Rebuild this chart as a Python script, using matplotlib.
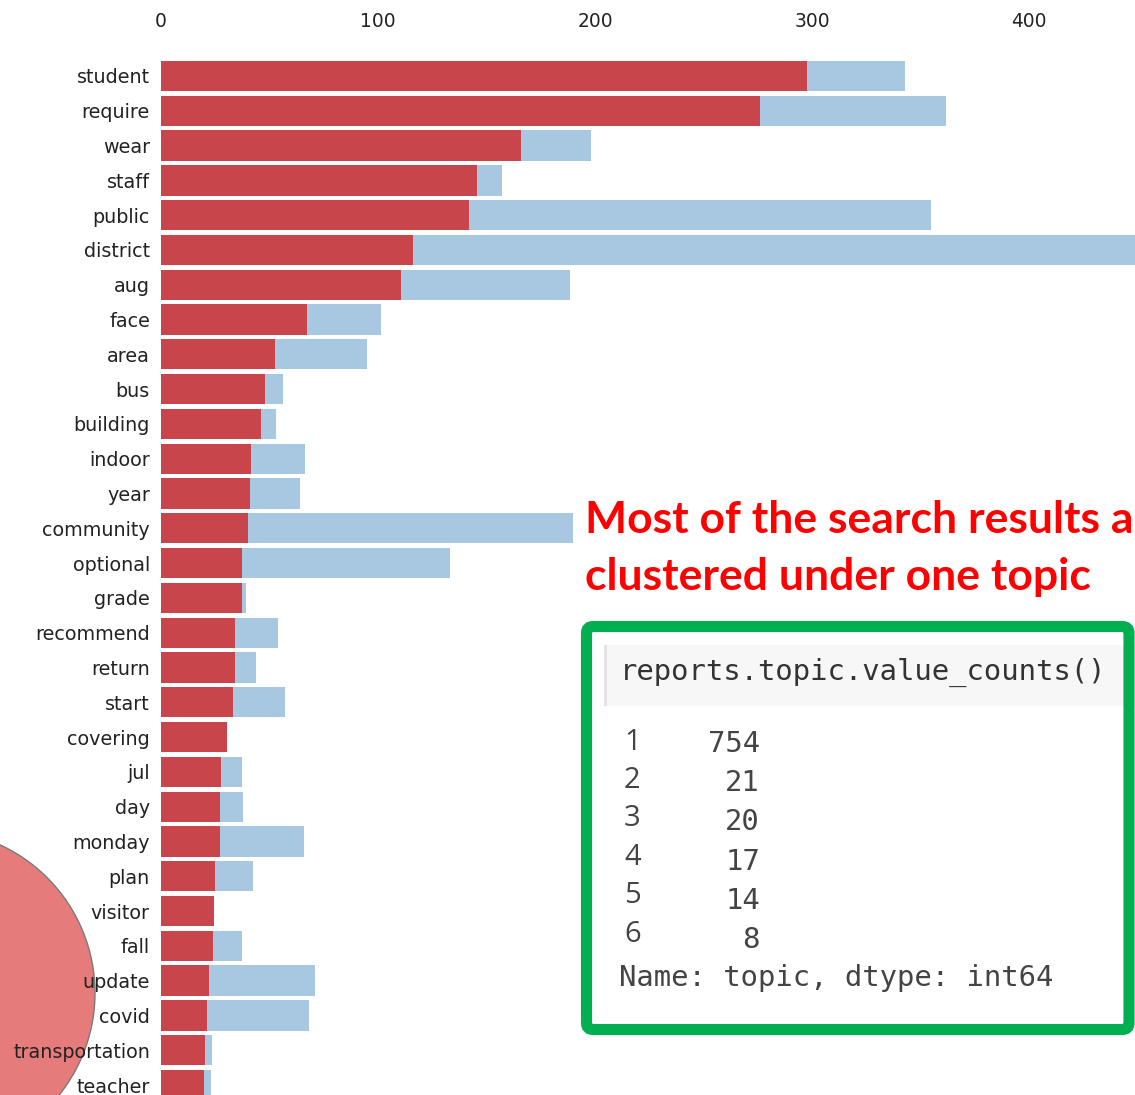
import matplotlib.pyplot as plt
from matplotlib.patches import Circle, FancyBboxPatch, Rectangle

# top terms for the selected topic
terms = ['student', 'require', 'wear', 'staff', 'public', 'district', 'aug', 'face',
         'area', 'bus', 'building', 'indoor', 'year', 'community', 'optional', 'grade',
         'recommend', 'return', 'start', 'covering', 'jul', 'day', 'monday', 'plan',
         'visitor', 'fall', 'update', 'covid', 'transportation', 'teacher']
# estimated term frequency within the topic
topic_freq = [297.5, 276, 166, 145.5, 142, 116, 110.5, 67.5, 52.5, 48, 46, 41.5, 41,
              40, 37.5, 37.5, 34, 34, 33, 30.5, 27.5, 27, 27, 25, 24.5, 24, 22, 21,
              20.5, 20]
# overall term frequency in the corpus
overall_freq = [343, 361.5, 198, 157, 355, 465, 188.5, 101.5, 95, 56, 53, 66.5, 64,
                190, 133, 39, 54, 44, 57, 30.5, 37.5, 38, 66, 42.5, 24.5, 37.5, 71,
                68, 23.5, 23]
xticks = [0, 100, 200, 300, 400]

# reports.topic.value_counts()
topic_ids = [1, 2, 3, 4, 5, 6]
topic_counts = [754, 21, 20, 17, 14, 8]

W, H = 1135, 1095
fig = plt.figure(figsize=(W / 100, H / 100), dpi=100)


def fx(x):
    return x / W


def fy(y):
    return 1 - y / H


# topic bubble peeking in from the left edge
bubble = Circle((-68, H - 993), 163, transform=None, facecolor='#E67B7C',
                edgecolor='#7a7a7a', linewidth=1, zorder=-1)
fig.add_artist(bubble)

ax = fig.add_axes([fx(161), fy(1102.4), fx(1135) - fx(161), fy(58.6) - fy(1102.4)])
ax.patch.set_visible(False)
y = range(len(terms))
ax.barh(y, overall_freq, height=0.87, color='#A7C8E0')
ax.barh(y, topic_freq, height=0.87, color='#C9454C')
ax.set_xlim(0, 448.8)
ax.set_ylim(len(terms) - 0.5, -0.5)
ax.set_yticks(list(y))
ax.set_yticklabels(terms, fontsize=13.8, color='#222222')
ax.xaxis.tick_top()
ax.set_xticks(xticks)
ax.set_xticklabels([str(t) for t in xticks], fontsize=13.4, color='#222222')
ax.tick_params(axis='x', length=0, pad=20)
ax.tick_params(axis='y', length=0, pad=8)
for s in ax.spines.values():
    s.set_visible(False)

# annotation, one line at a time
note = ['Most of the search results a', 'clustered under one topic']
for i, line in enumerate(note):
    fig.text(fx(585), fy(533 + i * 57), line, fontsize=32, fontweight='bold',
             family='Lato', color='#FF0000', ha='left', va='baseline')

# notebook cell in a green frame
fig.add_artist(Rectangle((fx(604), fy(706)), fx(1135) - fx(604), fy(645) - fy(706),
                         transform=fig.transFigure, facecolor='#F7F7F7',
                         edgecolor='none'))
fig.add_artist(Rectangle((fx(604), fy(706)), fx(607) - fx(604), fy(645) - fy(706),
                         transform=fig.transFigure, facecolor='#E3E3E3',
                         edgecolor='none'))
fig.add_artist(FancyBboxPatch((fx(586.5), fy(1029.5)), fx(1129) - fx(586.5),
                              fy(626.5) - fy(1029.5),
                              boxstyle='round,pad=0,rounding_size=0.006',
                              transform=fig.transFigure, facecolor='none',
                              edgecolor='#00B050', linewidth=8))

fig.text(fx(620), fy(680), 'reports.topic.value_counts()', family='DejaVu Sans Mono',
         fontsize=20.8, color='#333333', ha='left', va='baseline')
for i, (tid, cnt) in enumerate(zip(topic_ids, topic_counts)):
    fig.text(fx(624), fy(742 + i * 38.4), str(tid), family='Open Sans', fontsize=21,
             color='#444444', ha='left', va='center')
    fig.text(fx(760), fy(744 + i * 39.2), str(cnt), family='DejaVu Sans Mono',
             fontsize=20.8, color='#444444', ha='right', va='center')
fig.text(fx(619), fy(978), 'Name: topic, dtype: int64', family='DejaVu Sans Mono',
         fontsize=20.8, color='#444444', ha='left', va='center')

fig.savefig('out.png', dpi=100)
